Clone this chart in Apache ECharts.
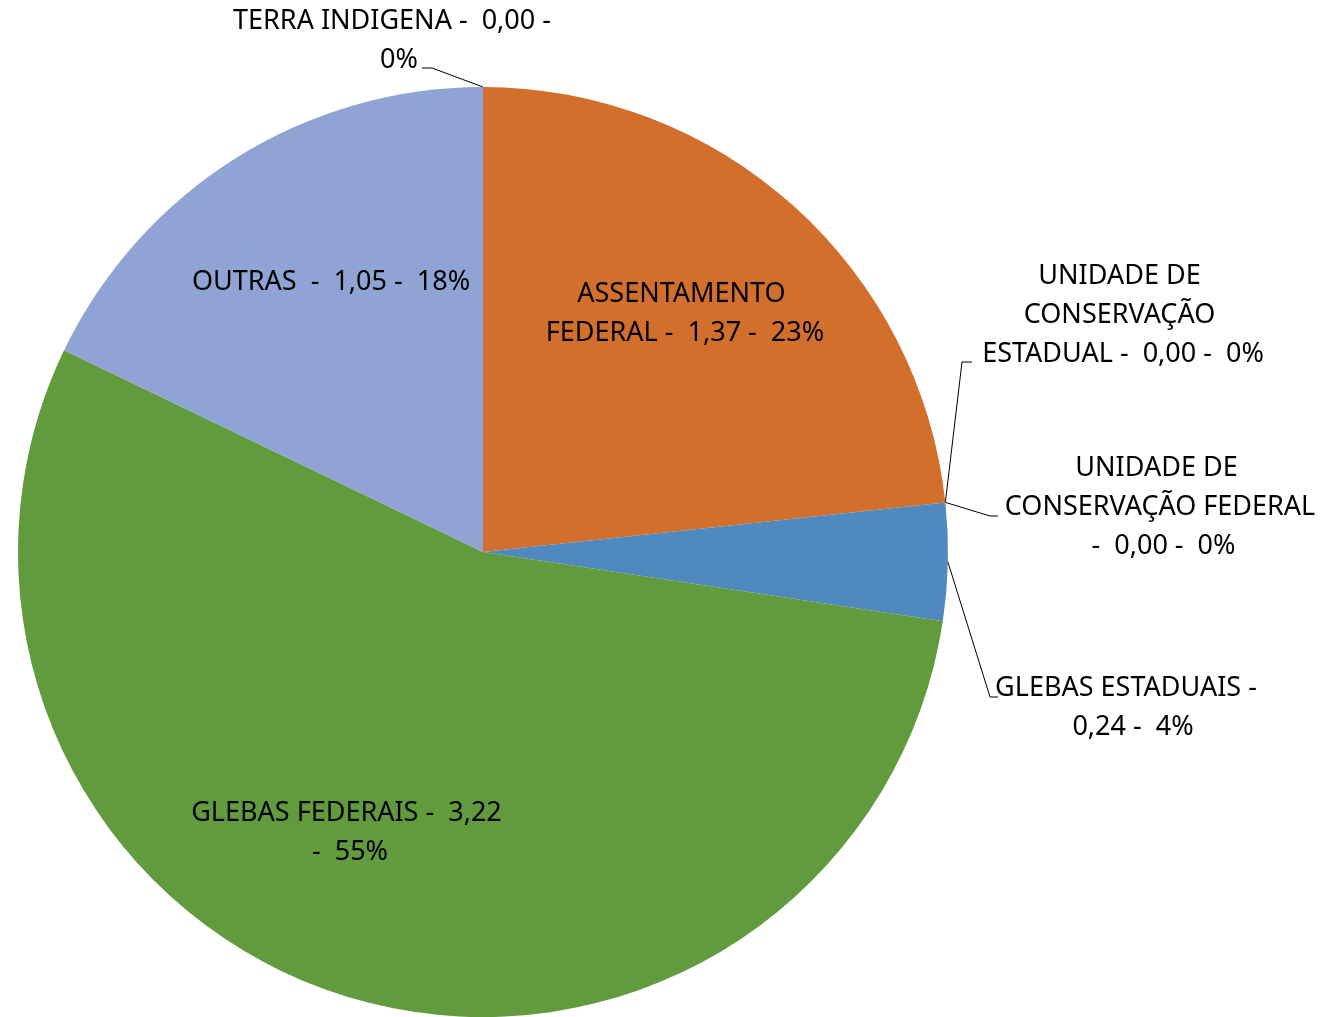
<!DOCTYPE html>
<html>
<head>
<meta charset="utf-8">
<script src="https://cdn.jsdelivr.net/npm/echarts@6/dist/echarts.min.js"></script>
<style>
  html, body { margin: 0; padding: 0; background: #fff; }
  #chart { width: 1331px; height: 1017px; }
</style>
</head>
<body>
<div id="chart"></div>
<script>
// dados do gráfico
const categories = [
  'ASSENTAMENTO FEDERAL',
  'UNIDADE DE CONSERVAÇÃO ESTADUAL',
  'UNIDADE DE CONSERVAÇÃO FEDERAL',
  'GLEBAS ESTADUAIS',
  'GLEBAS FEDERAIS',
  'OUTRAS ',
  'TERRA INDIGENA'
]
const values = [1.37, 0, 0, 0.24, 3.22, 1.05, 0]
const colors = ['#D26F2C', '#A5A5A5', '#FFC000', '#4F89BD', '#629A3E', '#8FA3D4', '#4472C4']

// posição e quebra dos rótulos (layout apenas)
const labelCfg = [
  { pos: 'inside', width: 320, at: [685, 314] },
  { pos: 'outside', width: 300, at: [1123, 315], bend: [962, 362], end: [972, 362] },
  { pos: 'outside', width: 335, at: [1160, 507], bend: [990, 516], end: [998, 516] },
  { pos: 'outside', width: 285, at: [1133, 708], bend: [990, 697], end: [998, 697] },
  { pos: 'inside', width: 318, at: [350, 833] },
  { pos: 'inside', width: 400, at: [331, 282] },
  { pos: 'outside', width: 345, at: [399, 41], bend: [432, 68], end: [422, 68] }
]

const total = values.reduce((a, b) => a + b, 0)
const fmtNum = (v) => v.toFixed(2).replace('.', ',')

const chart = echarts.init(document.getElementById('chart'))

chart.setOption({
  animation: false,
  series: [
    {
      type: 'pie',
      center: [483, 552],
      radius: 465,
      startAngle: 90,
      clockwise: true,
      avoidLabelOverlap: false,
      itemStyle: { borderWidth: 0 },
      label: {
        fontFamily: 'Noto Sans',
        fontSize: 27,
        lineHeight: 39,
        color: '#000',
        overflow: 'break',
        align: 'center',
        formatter: (p) => {
          const pct = total ? Math.round((p.value / total) * 100) : 0
          return `${p.name} -  ${fmtNum(p.value)} -  ${pct}%`
        }
      },
      labelLine: {
        show: true,
        length: 20,
        length2: 10,
        lineStyle: { color: '#000', width: 1 }
      },
      labelLayout: (params) => {
        const c = labelCfg[params.dataIndex]
        const out = { x: c.at[0], y: c.at[1], align: 'center', verticalAlign: 'middle' }
        if (c.bend && params.labelLinePoints) {
          out.labelLinePoints = [params.labelLinePoints[0], c.bend, c.end]
        }
        return out
      },
      data: categories.map((name, i) => ({
        name,
        value: values[i],
        itemStyle: { color: colors[i] },
        label: { position: labelCfg[i].pos, width: labelCfg[i].width },
        labelLine: { show: labelCfg[i].pos === 'outside' }
      }))
    }
  ]
})
</script>
</body>
</html>
